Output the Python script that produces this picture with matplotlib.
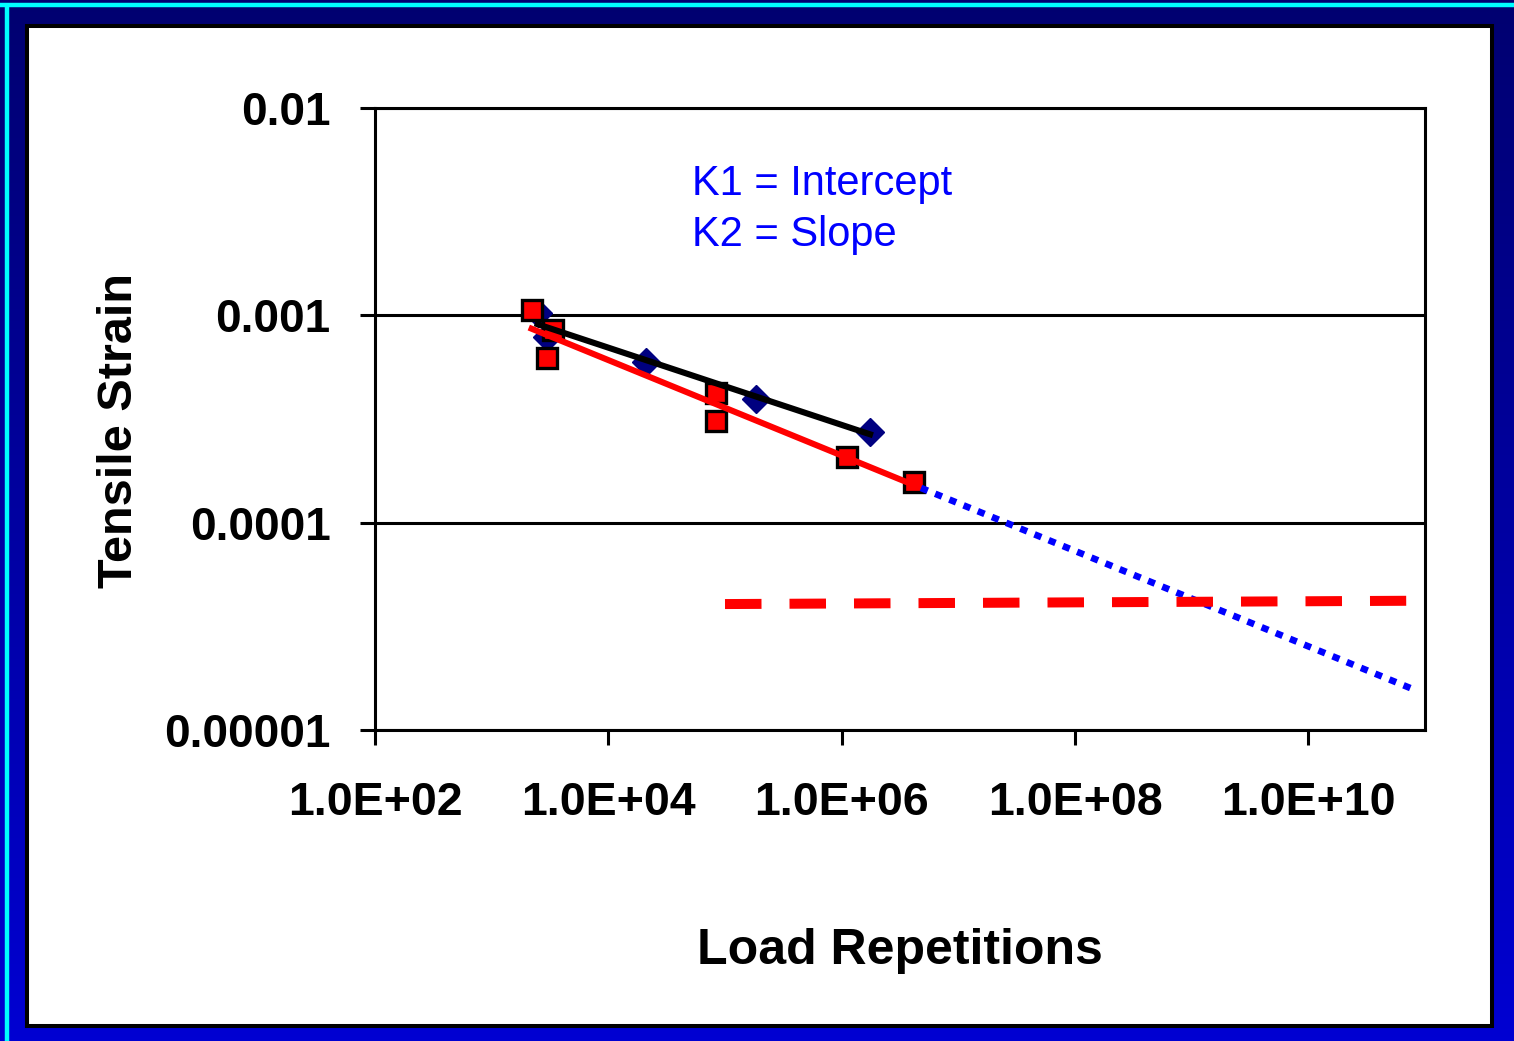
import numpy as np
import matplotlib
matplotlib.use("Agg")
import matplotlib.pyplot as plt
from matplotlib.patches import Rectangle

plt.rcParams['font.family'] = ['Liberation Sans', 'DejaVu Sans']

# --- data ---
# red squares (measured strain vs. cycles to failure)
red_reps = [2200, 2960, 3340, 84300, 84300, 1.11e6, 4.16e6]
red_strain = [1.06e-3, 6.2e-4, 8.5e-4, 4.2e-4, 3.09e-4, 2.07e-4, 1.57e-4]

# navy diamonds
navy_reps = [2480, 2960, 21200, 185000, 1.75e6]
navy_strain = [1.03e-3, 7.85e-4, 5.96e-4, 3.95e-4, 2.74e-4]

# forecast of the red power-law fit out to this many repetitions
forecast_end = 7.5e10

# endurance limit (red dashed)
limit_reps = [1.0e5, 6.9e10]
limit_strain = [4.05e-5, 4.2e-5]

x_ticks = [1e2, 1e4, 1e6, 1e8, 1e10]
x_labels = ['1.0E+02', '1.0E+04', '1.0E+06', '1.0E+08', '1.0E+10']
y_ticks = [1e-5, 1e-4, 1e-3, 1e-2]
y_labels = ['0.00001', '0.0001', '0.001', '0.01']

W, H = 1514, 1041
fig = plt.figure(figsize=(W / 100, H / 100), dpi=100)

# --- slide style background ---
bg = fig.add_axes([0, 0, 1, 1])
grad = np.linspace(0, 1, 256).reshape(-1, 1)
top_c = np.array([0, 0, 112]) / 255
bot_c = np.array([0, 0, 210]) / 255
img = top_c[None, None, :] * (1 - grad[:, :, None]) + bot_c[None, None, :] * grad[:, :, None]
bg.imshow(img, extent=(0, W, H, 0), aspect='auto')
bg.plot([0, W], [5, 5], color='#00FFFF', lw=3.2, solid_capstyle='butt')
bg.plot([6.5, 6.5], [5, H], color='#00FFFF', lw=3.2, solid_capstyle='butt')
bg.add_patch(Rectangle((27, 25.5), 1465, 1000.5, facecolor='white',
                       edgecolor='black', lw=2.9))
bg.set_xlim(0, W)
bg.set_ylim(H, 0)
bg.axis('off')

# --- chart ---
ax = fig.add_axes([375 / W, 1 - 730 / H, 1050 / W, 622 / H])
ax.set_xscale('log')
ax.set_yscale('log')
ax.set_xlim(1e2, 1e11)
ax.set_ylim(1e-5, 1e-2)

ax.plot(navy_reps, navy_strain, linestyle='none', marker='D', ms=14,
        color='#000080', zorder=3)
ax.plot(red_reps, red_strain, linestyle='none', marker='s', ms=14.5,
        mfc='#FF0000', mec='black', mew=2.4, zorder=4)

# power-law trendlines (straight in log-log)
lx = np.log10(navy_reps)
b_n, a_n = np.polyfit(lx, np.log10(navy_strain), 1)
xs = np.array([min(navy_reps), max(navy_reps)])
ax.plot(xs, 10 ** (a_n + b_n * np.log10(xs)), color='black', lw=4.4, zorder=5)

lx = np.log10(red_reps)
b_r, a_r = np.polyfit(lx, np.log10(red_strain), 1)
xs = np.array([min(red_reps), max(red_reps)])
ax.plot(xs, 10 ** (a_r + b_r * np.log10(xs)), color='#FF0000', lw=4.4, zorder=5)

xf = np.array([max(red_reps) * 1.15, forecast_end])
ax.plot(xf, 10 ** (a_r + b_r * np.log10(xf)), color='#0000FF', lw=4.8,
        linestyle=(0, (1.1, 1.2)), zorder=5)

ax.plot(limit_reps, limit_strain, color='#FF0000', lw=7.2,
        linestyle=(0, (3.65, 2.8)), zorder=5)

ax.text(0.302, 0.860, 'K1 = Intercept', transform=ax.transAxes,
        fontsize=30, color='#0000FF', va='baseline')
ax.text(0.302, 0.778, 'K2 = Slope', transform=ax.transAxes,
        fontsize=30, color='#0000FF', va='baseline')

ax.set_xticks(x_ticks)
ax.set_xticklabels(x_labels)
ax.set_yticks(y_ticks)
ax.set_yticklabels(y_labels)
ax.minorticks_off()
ax.tick_params(axis='x', direction='out', length=11, width=2.2, pad=26,
               labelsize=33.5)
ax.tick_params(axis='y', direction='out', length=11, width=2.2, pad=21,
               labelsize=33)
for lab in ax.get_xticklabels() + ax.get_yticklabels():
    lab.set_fontweight('bold')

ax.grid(axis='y', which='major', color='black', lw=2.2)
ax.set_axisbelow(True)
for s in ax.spines.values():
    s.set_linewidth(2.2)
    s.set_color('black')

ax.set_xlabel('Load Repetitions', fontsize=36, fontweight='bold', labelpad=74)
ax.set_ylabel('Tensile Strain', fontsize=35, fontweight='bold')
ax.yaxis.set_label_coords(-0.222, 0.482)

fig.savefig('out.png', dpi=100)
